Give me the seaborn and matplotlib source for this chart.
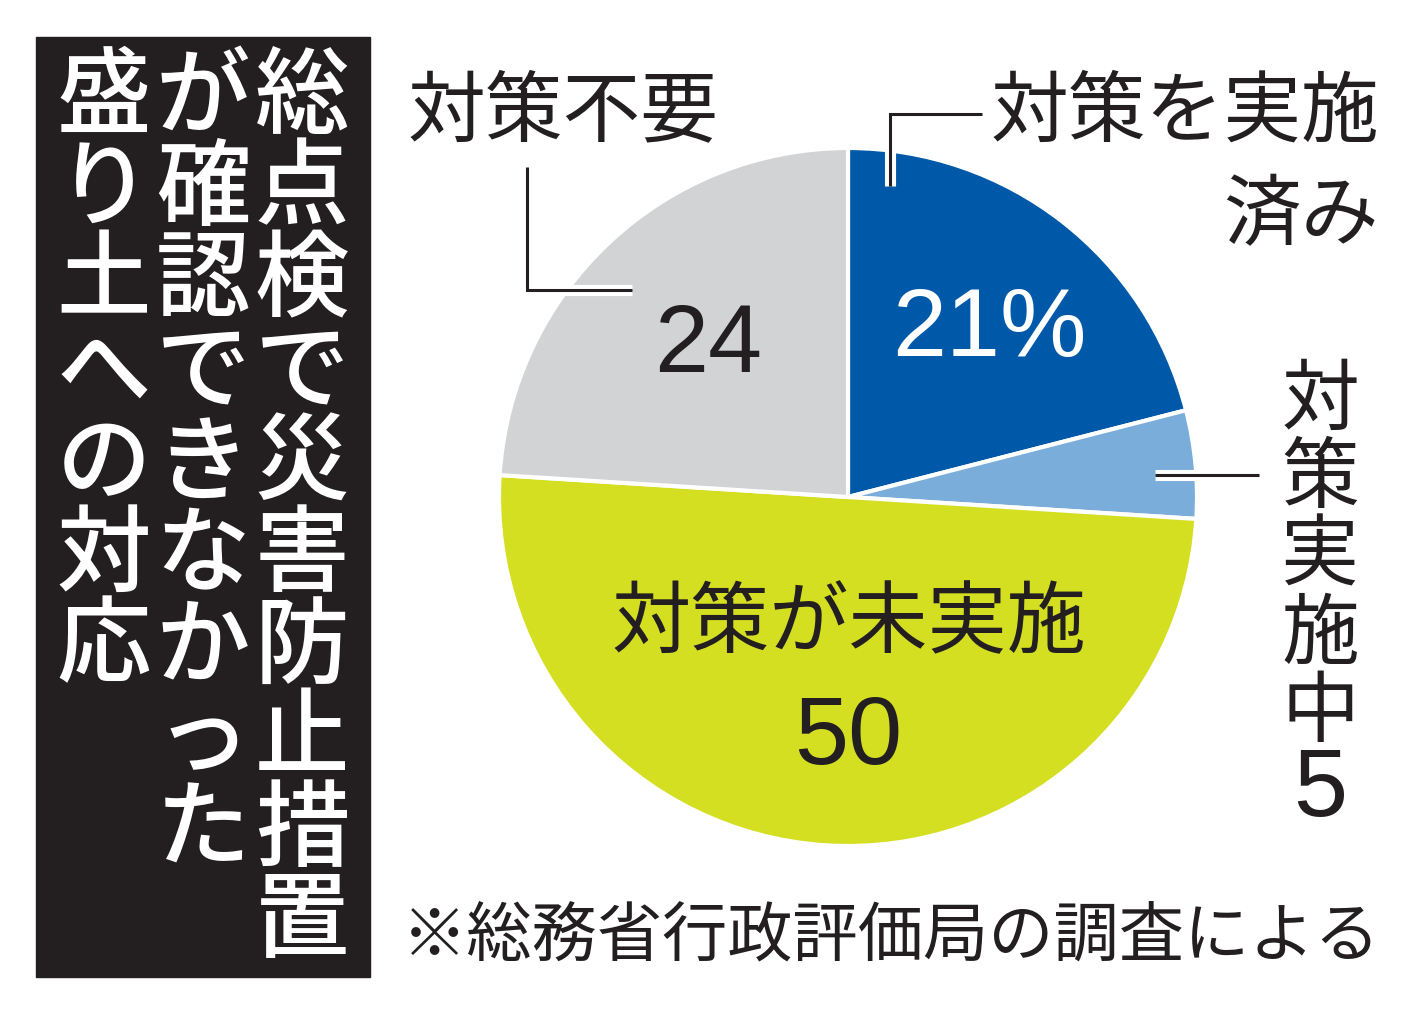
import matplotlib
matplotlib.use("Agg")
import matplotlib.pyplot as plt
import matplotlib.patheffects as pe
from matplotlib.patches import Rectangle
import seaborn as sns

# データ(時計回り、12時の位置から)
labels = ["対策を実施済み", "対策実施中", "対策が未実施", "対策不要"]
values = [21, 5, 50, 24]
colors = ["#0058a8", "#7aadda", "#d5df21", "#d2d3d5"]

title_cols = ["総点検で災害防止措置", "が確認できなかった", "盛り土への対応"]
note = "※総務省行政評価局の調査による"

sns.set_theme(style="white")
plt.rcParams["font.family"] = ["Noto Sans CJK JP", "DejaVu Sans"]
NUM_FONT = ["Liberation Sans", "DejaVu Sans"]

W, H = 1417, 1016
INK = "#231f20"
fig = plt.figure(figsize=(W / 100, H / 100), dpi=100)

# 円グラフ
cx, cy, r = 848, 497, 349
ax = fig.add_axes([(cx - r) / W, 1 - (cy + r) / H, 2 * r / W, 2 * r / H])
ax.pie(values, colors=colors, startangle=90, counterclock=False, radius=1,
       wedgeprops=dict(edgecolor="white", linewidth=3))
ax.set_xlim(-1, 1)
ax.set_ylim(-1, 1)
ax.set_axis_off()

# 文字と引き出し線はピクセル座標の上に置く
ov = fig.add_axes([0, 0, 1, 1], facecolor="none")
ov.set_xlim(0, W)
ov.set_ylim(H, 0)
ov.set_axis_off()

# 見出し(縦書き)
ov.add_patch(Rectangle((36, 37), 334, 940, color=INK, zorder=1))
for col, xc in zip(title_cols, [302, 203, 104]):
    for i, ch in enumerate(col):
        ov.text(xc, 99 + i * 91.6, ch, color="white", fontsize=68,
                fontweight="medium", ha="center", va="center", zorder=2)

halo = [pe.Stroke(linewidth=8, foreground="white"), pe.Normal()]
lk = dict(color=INK, lw=2.2, path_effects=halo, solid_capstyle="butt",
          solid_joinstyle="miter", zorder=3)

# 対策不要
ov.plot([527, 527, 632], [167, 290, 290], **lk)
ov.text(408, 113, "対策不要", fontsize=56, color=INK, ha="left", va="center")

# 対策を実施済み
ov.plot([890, 890, 982], [186, 114, 114], **lk)
ov.text(1379, 114, "対策を実施", fontsize=56, color=INK, ha="right", va="center")
ov.text(1379, 217, "済み", fontsize=56, color=INK, ha="right", va="center")

# 対策実施中5(縦書き)
ov.plot([1155, 1259], [475, 475], **lk)
for i, ch in enumerate("対策実施中"):
    ov.text(1320, 402 + i * 78, ch, fontsize=56, color=INK,
            ha="center", va="center")
ov.text(1320, 791, str(values[1]), fontsize=70, color=INK, family=NUM_FONT,
        ha="center", va="center")

# 円内の数値
ov.text(989, 331, f"{values[0]}%", fontsize=70, color="white", family=NUM_FONT,
        ha="center", va="center")
ov.text(708, 347, str(values[3]), fontsize=70, color=INK, family=NUM_FONT,
        ha="center", va="center")
ov.text(849, 625, "対策が未実施", fontsize=57, color=INK,
        ha="center", va="center")
ov.text(848, 739, str(values[2]), fontsize=70, color=INK, family=NUM_FONT,
        ha="center", va="center")

# 注記
ov.text(402, 937, note, fontsize=47, color=INK, ha="left", va="center")

fig.savefig("out.png", dpi=100, facecolor="white")
